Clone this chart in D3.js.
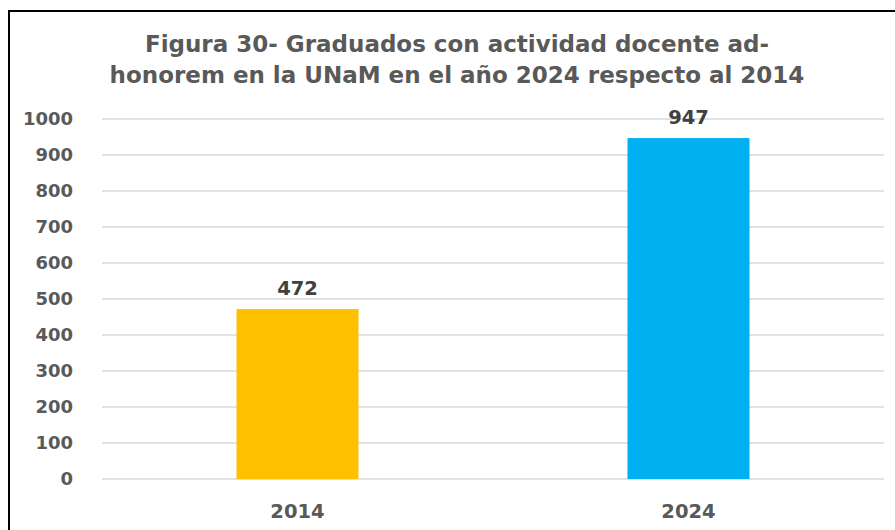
<!DOCTYPE html>
<html>
<head>
<meta charset="utf-8">
<script src="https://cdn.jsdelivr.net/npm/d3@7"></script>
<style>
  body { margin: 0; background: #fff; }
  svg { display: block; font-family: "DejaVu Sans", sans-serif; }
</style>
</head>
<body>
<div id="chart"></div>
<script>
// chart data
const years = ["2014", "2024"];
const graduados = [472, 947];
const barColors = ["#FFC000", "#00B0F0"];
const yTicks = [0, 100, 200, 300, 400, 500, 600, 700, 800, 900, 1000];
const titleLines = ["Figura 30- Graduados con actividad docente ad-",
                    "honorem en la UNaM en el año 2024 respecto al 2014"];

const W = 895, H = 530;
const margin = {top: 119, right: 11, bottom: 51, left: 102};
const width = W - margin.left - margin.right;
const height = H - margin.top - margin.bottom;

const root = d3.select("#chart").append("svg")
    .attr("width", W).attr("height", H);

// frame of the chart area
root.append("rect")
    .attr("x", 9).attr("y", 11)
    .attr("width", 900).attr("height", 540)
    .attr("fill", "none").attr("stroke", "#000").attr("stroke-width", 2);

// title
root.append("g").selectAll("text")
    .data(titleLines)
    .enter().append("text")
    .attr("x", 457)
    .attr("y", (d, i) => 52 + i * 31)
    .attr("text-anchor", "middle")
    .style("font-size", "23px").style("font-weight", "bold")
    .attr("fill", "#595959")
    .text(d => d);

const svg = root.append("g")
    .attr("transform", `translate(${margin.left},${margin.top})`);

const x = d3.scaleBand().domain(years).range([0, width]).padding(0);
const y = d3.scaleLinear().domain([0, 1000]).range([height, 0]);
const barW = x.bandwidth() * 0.312;

// gridlines
svg.append("g").selectAll("line")
    .data(yTicks)
    .enter().append("line")
    .attr("x1", 0).attr("x2", width)
    .attr("y1", d => y(d)).attr("y2", d => y(d))
    .attr("stroke", "#d9d9d9").attr("stroke-width", 1.5);

// y axis labels
const yAxis = svg.append("g")
    .call(d3.axisLeft(y).tickValues(yTicks).tickFormat(d3.format("d")).tickSize(0).tickPadding(29));
yAxis.select(".domain").remove();
yAxis.selectAll("text")
    .style("font-size", "18px").style("font-weight", "bold")
    .style("font-family", "'DejaVu Sans', sans-serif")
    .attr("fill", "#595959");

// x axis labels
const xAxis = svg.append("g")
    .attr("transform", `translate(0,${height})`)
    .call(d3.axisBottom(x).tickSize(0).tickPadding(25));
xAxis.select(".domain").remove();
xAxis.selectAll("text")
    .style("font-size", "19.5px").style("font-weight", "bold")
    .style("font-family", "'DejaVu Sans', sans-serif")
    .attr("fill", "#595959");

// bars
svg.selectAll("rect.bar")
    .data(graduados)
    .enter().append("rect")
    .attr("class", "bar")
    .attr("x", (d, i) => x(years[i]) + (x.bandwidth() - barW) / 2)
    .attr("y", d => y(d))
    .attr("width", barW)
    .attr("height", d => height - y(d))
    .attr("fill", (d, i) => barColors[i]);

// value labels
svg.selectAll("text.val")
    .data(graduados)
    .enter().append("text")
    .attr("class", "val")
    .attr("x", (d, i) => x(years[i]) + x.bandwidth() / 2)
    .attr("y", d => y(d) - 14)
    .attr("text-anchor", "middle")
    .style("font-size", "19.5px").style("font-weight", "bold")
    .attr("fill", "#404040")
    .text(d => d);
</script>
</body>
</html>
